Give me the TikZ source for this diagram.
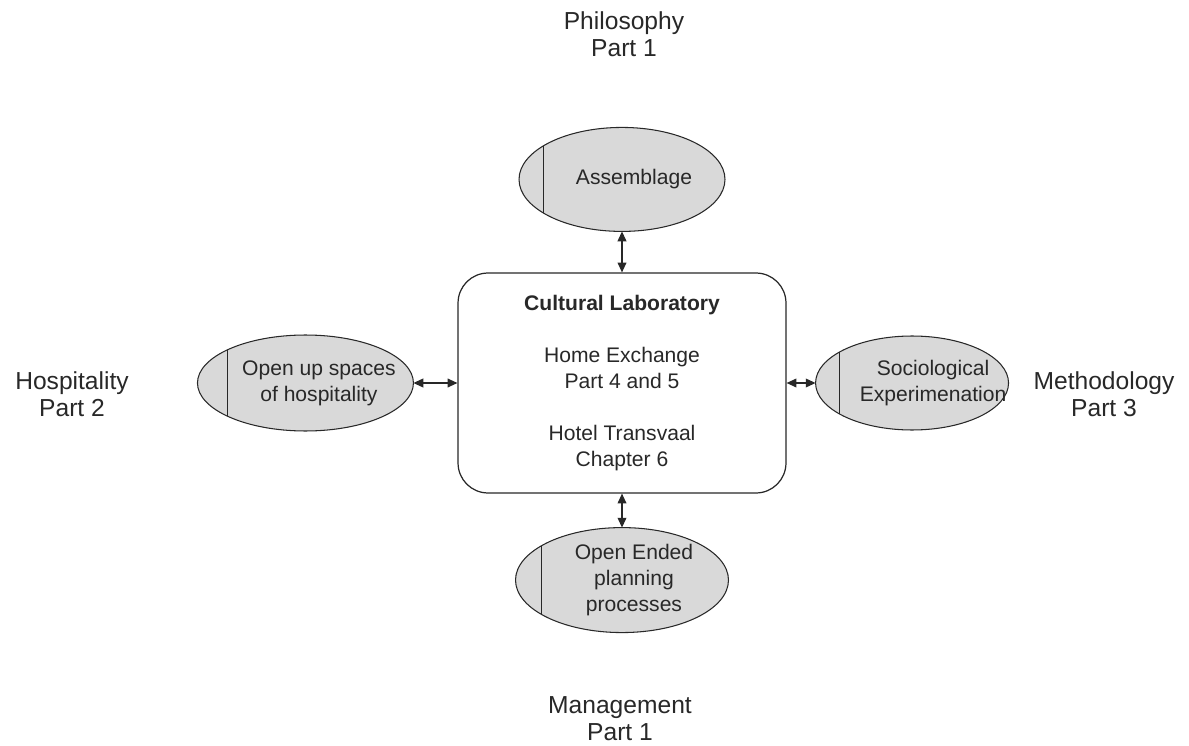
\documentclass[tikz,border=0pt]{standalone}
\usepackage{fontspec}
\setmainfont{Liberation Sans}
\usetikzlibrary{positioning,arrows.meta,shapes.geometric}
\definecolor{ovalgray}{RGB}{217,217,217}
\definecolor{inkgray}{RGB}{40,40,40}

\begin{document}
\begin{tikzpicture}[
    x=0.02cm, y=-0.02cm,
    labbox/.style={rectangle, draw=inkgray, line width=0.7pt, rounded corners=0.6cm, minimum width=6.56cm, minimum height=4.4cm, align=center, font=\fontsize{12}{14.75}\selectfont, text=inkgray},
    oval/.style={ellipse, draw=inkgray, fill=ovalgray, line width=0.6pt, inner sep=0pt, outer sep=0pt},
    ovaltext/.style={align=center, inner sep=0pt, font=\fontsize{12}{14.75}\selectfont, text=inkgray},
    partlabel/.style={align=center, font=\fontsize{14}{15.5}\selectfont, text=inkgray},
    divider/.style={draw=inkgray, line width=0.7pt},
    arrow/.style={{Triangle[length=5.6pt,width=5pt]}-{Triangle[length=5.6pt,width=5pt]}, line width=0.7pt, draw=inkgray, fill=inkgray},
]
\useasboundingbox (0,0) rectangle (1189,746);

% Cultural laboratory
\node[labbox] (lab) at (622,383) {\textbf{Cultural Laboratory}\\[14.75pt]Home Exchange\\Part 4 and 5\\[14.75pt]Hotel Transvaal\\Chapter 6};

% Ovals around the lab
\node[oval, minimum width=4.12cm, minimum height=2.08cm, above=0.82cm of lab] (assem) {};
\node[oval, minimum width=4.32cm, minimum height=1.92cm, left=0.88cm of lab] (hosp) {};
\node[oval, minimum width=3.86cm, minimum height=1.88cm, right=0.58cm of lab] (socio) {};
\node[oval, minimum width=4.26cm, minimum height=2.1cm, below=0.68cm of lab] (plan) {};

\foreach \n in {assem,hosp,socio,plan}
    \draw[divider] (\n.157) -- (\n.203);

\node[ovaltext] (assem-t) at ([xshift=0.24cm]assem.center) {Assemblage};
\node[ovaltext] (hosp-t) at ([xshift=0.27cm]hosp.center) {Open up spaces\\of hospitality};
\node[ovaltext] (socio-t) at ([xshift=0.42cm]socio.center) {Sociological\\Experimenation};
\node[ovaltext] (plan-t) at ([xshift=0.24cm]plan.center) {Open Ended\\planning\\processes};

% Parts
\node[partlabel] (philo) at (624,34) {Philosophy\\Part 1};
\node[partlabel] (hospi) at (72,394) {Hospitality\\Part 2};
\node[partlabel] (method) at (1104,394) {Methodology\\Part 3};
\node[partlabel] (manage) at (620,719) {Management\\Part 1};

% Arrows
\draw[arrow] (assem) -- (lab);
\draw[arrow] (hosp) -- (lab);
\draw[arrow] (socio) -- (lab);
\draw[arrow] (plan) -- (lab);

\end{tikzpicture}
\end{document}
